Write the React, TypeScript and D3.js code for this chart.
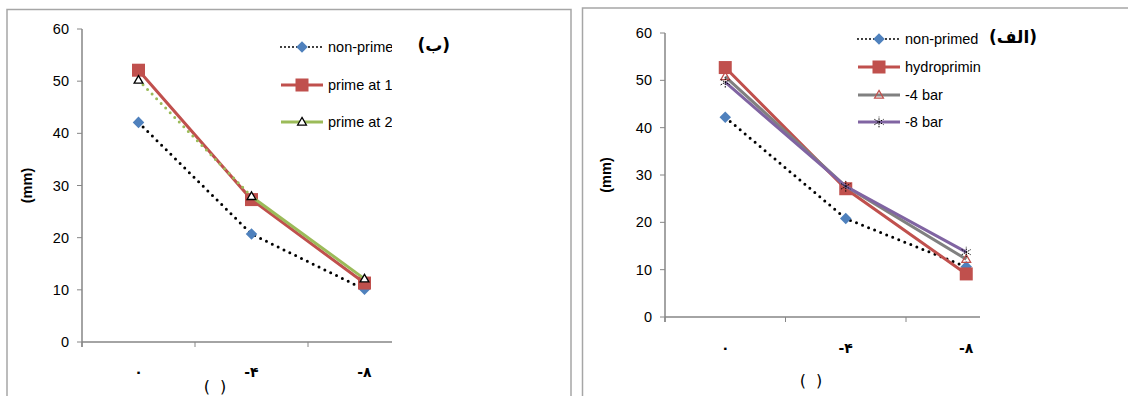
import React from "react";
import * as d3 from "d3";

const categories = ["۰", "-۴", "-۸"];
const yTicks = [0, 10, 20, 30, 40, 50, 60];

// Left panel (ب)
const leftNames = ["non-primed", "prime at 15", "prime at 25"];
const leftNonPrime = [42.1, 20.7, 10.1];
const leftPrime1 = [52.1, 27.3, 11.3];
const leftPrime2 = [50.2, 27.9, 12.1];

// Right panel (الف)
const rightNames = ["non-primed", "hydropriming", "-4 bar", "-8 bar"];
const rightNonPrimed = [42.2, 20.8, 10.6];
const rightHydro = [52.7, 27.1, 9.1];
const rightMinus4 = [50.8, 27.6, 12.2];
const rightMinus8 = [49.6, 27.6, 13.7];

const FONT = "'Liberation Sans', Arial, sans-serif";
const AFONT = "'DejaVu Sans', sans-serif";

type Series = {
  name: string;
  values: number[];
  color: string;
  width: number;
  dotted?: boolean;
  dottedFirst?: boolean;
  marker: "diamond" | "square" | "triangle" | "triangleRed" | "star";
};

function Marker({ kind, x, y }: { kind: Series["marker"]; x: number; y: number }) {
  if (kind === "diamond") {
    const p = d3.symbol().type(d3.symbolDiamond2).size(85)();
    return <path d={p!} transform={`translate(${x},${y})`} fill="#4F81BD" />;
  }
  if (kind === "square") {
    return <rect x={x - 6.5} y={y - 6.5} width={13} height={13} fill="#C0504D" />;
  }
  if (kind === "triangle" || kind === "triangleRed") {
    const p = d3.symbol().type(d3.symbolTriangle2).size(55)();
    return (
      <path
        d={p!}
        transform={`translate(${x},${y + 0.5})`}
        fill={kind === "triangle" ? "#fff" : "none"}
        stroke={kind === "triangle" ? "#000" : "#C0504D"}
        strokeWidth={1.3}
      />
    );
  }
  const p = d3.symbol().type(d3.symbolAsterisk).size(80)();
  return <path d={p!} transform={`translate(${x},${y})`} fill="none" stroke="#000" strokeWidth={1} strokeDasharray="1.5 1" />;
}

function Panel(props: {
  left: number;
  top: number;
  right: number;
  yTop: number;
  yBottom: number;
  xStart: number;
  band: number;
  axisEnd: number;
  series: Series[];
  legendX: number;
  legendYs: number[];
  legendClip: number;
  title: string;
  titleX: number;
  titleY: number;
  yLabelX: number;
  xLabelY: number;
  unitX: number;
  unitY: number;
  id: string;
}) {
  const y = d3.scaleLinear().domain([0, 60]).range([props.yBottom, props.yTop]);
  const x = d3
    .scaleBand<string>()
    .domain(categories)
    .range([props.xStart, props.xStart + props.band * categories.length])
    .padding(0);
  const cx = (c: string) => (x(c) as number) + x.bandwidth() / 2;
  const line = d3
    .line<number>()
    .x((_, i) => cx(categories[i]))
    .y((v) => y(v));
  const seg = (vals: number[], from: number, to: number) =>
    d3
      .line<number>()
      .x((_, i) => cx(categories[i + from]))
      .y((v) => y(v))(vals.slice(from, to + 1));

  return (
    <g>
      <defs>
        <clipPath id={`clip-${props.id}`}>
          <rect x={props.legendX - 60} y={0} width={props.legendClip - props.legendX + 60} height={200} />
        </clipPath>
      </defs>
      <path
        d={`M${props.left},400 V${props.top} H${props.right} V400`}
        fill="none"
        stroke="#a6a6a6"
        strokeWidth={1.5}
      />
      {/* y axis */}
      <line x1={props.xStart} x2={props.xStart} y1={props.yTop} y2={props.yBottom + 5} stroke="#868686" strokeWidth={1.5} />
      {yTicks.map((t) => (
        <g key={t}>
          <line x1={props.xStart - 5} x2={props.xStart} y1={y(t)} y2={y(t)} stroke="#868686" strokeWidth={1} />
          <text x={props.xStart - 13} y={y(t)} dy="0.35em" textAnchor="end" fontFamily={FONT} fontSize={14.5} fill="#000">
            {t}
          </text>
        </g>
      ))}
      {/* x axis */}
      <line x1={props.xStart} x2={props.axisEnd} y1={props.yBottom} y2={props.yBottom} stroke="#868686" strokeWidth={1.5} />
      {categories.map((c) => (
        <line key={c} x1={x(c)} x2={x(c)} y1={props.yBottom} y2={props.yBottom + 5} stroke="#868686" strokeWidth={1} />
      ))}
      {categories.map((c) => (
        <text key={c} x={cx(c)} y={props.xLabelY} textAnchor="middle" fontFamily={AFONT} fontWeight="bold" fontSize={14} fill="#000">
          {c}
        </text>
      ))}
      <text x={props.unitX} y={props.unitY} textAnchor="middle" fontFamily={AFONT} fontSize={16} fill="#000" style={{ whiteSpace: "pre" }}>
        {"(  )"}
      </text>
      <text
        transform={`translate(${props.yLabelX},${(props.yTop + props.yBottom) / 2}) rotate(-90)`}
        textAnchor="middle"
        fontFamily={FONT}
        fontWeight="bold"
        fontSize={14.5}
        fill="#000"
      >
        (mm)
      </text>
      {/* series */}
      {props.series.map((s) => (
        <g key={s.name}>
          {s.dotted ? (
            <path d={line(s.values)!} fill="none" stroke="#000" strokeWidth={3} strokeLinecap="round" strokeDasharray="0 6.5" />
          ) : s.dottedFirst ? (
            <g>
              <path d={seg(s.values, 0, 1)!} fill="none" stroke={s.color} strokeWidth={3} strokeLinecap="round" strokeDasharray="0 6.5" />
              <path d={seg(s.values, 1, 2)!} fill="none" stroke={s.color} strokeWidth={s.width} />
            </g>
          ) : (
            <path d={line(s.values)!} fill="none" stroke={s.color} strokeWidth={s.width} />
          )}
          {s.values.map((v, i) => (
            <Marker key={i} kind={s.marker} x={cx(categories[i])} y={y(v)} />
          ))}
        </g>
      ))}
      {/* legend */}
      <g clipPath={`url(#clip-${props.id})`}>
        {props.series.map((s, i) => {
          const ly = props.legendYs[i];
          const lx0 = props.legendX - 46;
          const lx1 = props.legendX - 4;
          return (
            <g key={s.name}>
              {s.dotted ? (
                <line x1={lx0} x2={lx1} y1={ly} y2={ly} stroke="#000" strokeWidth={2} strokeLinecap="round" strokeDasharray="0 4" />
              ) : (
                <line x1={lx0} x2={lx1} y1={ly} y2={ly} stroke={s.color} strokeWidth={s.width} />
              )}
              <Marker kind={s.marker} x={(lx0 + lx1) / 2} y={ly} />
              <text x={props.legendX + 1} y={ly} dy="0.35em" fontFamily={FONT} fontSize={14.5} fill="#000">
                {s.name}
              </text>
            </g>
          );
        })}
      </g>
      <text x={props.titleX} y={props.titleY} dy="0.35em" fontFamily={AFONT} fontWeight="bold" fontSize={17} fill="#000" direction="rtl" textAnchor="start">
        {props.title}
      </text>
    </g>
  );
}

export default function App() {
  const leftSeries: Series[] = [
    { name: leftNames[0], values: leftNonPrime, color: "#000", width: 3, dotted: true, marker: "diamond" },
    { name: leftNames[1], values: leftPrime1, color: "#C0504D", width: 3, marker: "square" },
    { name: leftNames[2], values: leftPrime2, color: "#9BBB59", width: 3, dottedFirst: true, marker: "triangle" },
  ];
  const rightSeries: Series[] = [
    { name: rightNames[0], values: rightNonPrimed, color: "#000", width: 3, dotted: true, marker: "diamond" },
    { name: rightNames[1], values: rightHydro, color: "#C0504D", width: 3, marker: "square" },
    { name: rightNames[2], values: rightMinus4, color: "#808080", width: 3, marker: "triangleRed" },
    { name: rightNames[3], values: rightMinus8, color: "#8064A2", width: 3, marker: "star" },
  ];
  return (
    <svg width={1128} height={396} style={{ position: "absolute", left: 0, top: 0, background: "#fff" }}>
      <rect width={1128} height={396} fill="#fff" />
      <Panel
        id="l"
        left={7}
        top={9.5}
        right={571}
        yTop={29}
        yBottom={342}
        xStart={82}
        band={113}
        axisEnd={392}
        series={leftSeries}
        legendX={327}
        legendYs={[47, 85, 122]}
        legendClip={392}
        title="(ب)"
        titleX={450}
        titleY={45}
        yLabelX={32}
        xLabelY={377}
        unitX={215}
        unitY={392}
      />
      <Panel
        id="r"
        left={582.5}
        top={8}
        right={1140}
        yTop={33}
        yBottom={317}
        xStart={665}
        band={120.5}
        axisEnd={980}
        series={rightSeries}
        legendX={904}
        legendYs={[39, 67, 95, 122]}
        legendClip={981}
        title="(الف)"
        titleX={1037}
        titleY={37}
        yLabelX={611}
        xLabelY={353}
        unitX={811}
        unitY={386}
      />
    </svg>
  );
}
